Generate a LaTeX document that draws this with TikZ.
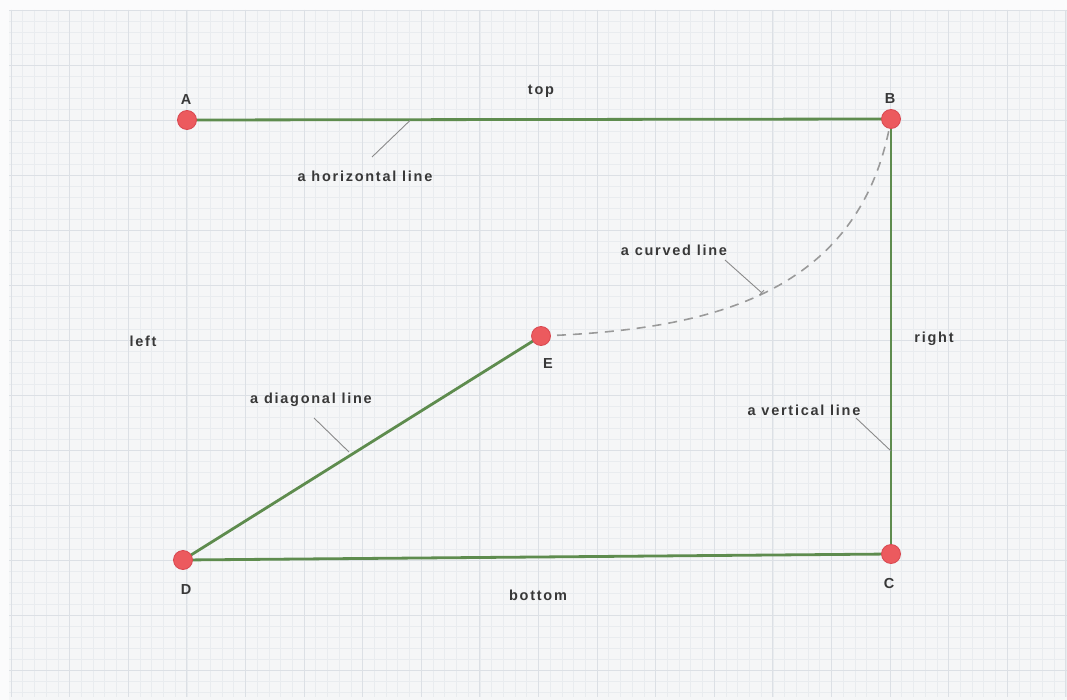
\documentclass[tikz,border=0pt]{standalone}
\usepackage{fontspec}
\setmainfont{Liberation Sans}[LetterSpace=12]
\usetikzlibrary{arrows.meta}
\definecolor{bgc}{HTML}{F5F6F7}
\definecolor{gridminor}{HTML}{E9ECEF}
\definecolor{gridmajor}{HTML}{DCE0E5}
\definecolor{linegreen}{HTML}{5E8C4E}
\definecolor{dotred}{HTML}{EC5A5E}
\definecolor{dotedge}{HTML}{D84850}
\definecolor{txt}{HTML}{383838}
\definecolor{leader}{HTML}{8A8A8A}
\definecolor{curvec}{HTML}{9A9A9A}
\tikzset{
  pt/.style={circle, fill=dotred, draw=dotedge, line width=0.8pt, minimum size=19pt, inner sep=0pt},
  lbl/.style={font=\bfseries\fontsize{14.5}{16}\selectfont, text=txt, inner sep=1pt},
  seg/.style={draw=linegreen, line width=2.8pt},
  lead/.style={draw=leader, line width=0.9pt},
  gminor/.style={draw=gridminor, line width=0.6pt},
  gmajor/.style={draw=gridmajor, line width=0.9pt},
}
\begin{document}
\begin{tikzpicture}[x=1pt,y=-1pt]
\useasboundingbox (0,0) rectangle (1067,700);
\fill[bgc] (0,0) rectangle (1067,700);
\fill[white!60!bgc] (0,0) rectangle (1067,10);
\fill[white!60!bgc] (0,0) rectangle (9,700);
% grid
\foreach \i in {0,...,90} {\draw[gminor] ({11+\i*11.72},10) -- ({11+\i*11.72},697);}
\foreach \j in {0,...,62} {\draw[gminor] (9,{10+\j*11}) -- (1067,{10+\j*11});}
\foreach \i in {0,...,18} {\draw[gmajor] ({11+\i*58.6},10) -- ({11+\i*58.6},697);}
\foreach \j in {0,...,12} {\draw[gmajor] (9,{10+\j*55}) -- (1067,{10+\j*55});}
% points
\coordinate (pA) at (187,120);
\coordinate (pB) at (891,119);
\coordinate (pC) at (891,554);
\coordinate (pD) at (183,560);
\coordinate (pE) at (541,336);
% curve
\draw[curvec, line width=1.6pt, dash pattern=on 9pt off 7pt] (pE) .. controls (700,330) and (860,300) .. (pB);
% segments
\draw[seg] (pA) -- (pB);
\draw[seg] (pB) -- (pC);
\draw[seg] (pC) -- (pD);
\draw[seg] (pD) -- (pE);
% dots
\node[pt] (A) at (pA) {};
\node[pt] (B) at (pB) {};
\node[pt] (C) at (pC) {};
\node[pt] (D) at (pD) {};
\node[pt] (E) at (pE) {};
% point labels
\node[lbl] (lA) at (186,100) {A};
\node[lbl] (lB) at (890,99) {B};
\node[lbl] (lC) at (889,584) {C};
\node[lbl] (lD) at (186,590) {D};
\node[lbl] (lE) at (548,364) {E};
% side labels
\node[lbl] (ltop) at (541,91) {top};
\node[lbl] (lbottom) at (538,595) {bottom};
\node[lbl] (lleft) at (143,341) {left};
\node[lbl] (lright) at (934,339) {right};
% line labels
\node[lbl] (lh) at (365,176) {a horizontal line};
\node[lbl] (lc) at (674,250) {a curved line};
\node[lbl] (ld) at (311,400) {a diagonal line};
\node[lbl] (lv) at (804,410) {a vertical line};
% leader ends
\coordinate (eh) at (410,120.5);
\coordinate (ec) at (762,293);
\coordinate (ed) at (349,452);
\coordinate (ev) at (891,451);
\coordinate (sh) at (372,157);
\coordinate (sc) at (725,260);
\coordinate (sd) at (314,418);
\coordinate (sv) at (856,418);
\draw[lead] (sh) -- (eh);
\draw[lead, -{Bar[width=7pt,line width=0.9pt]}] (sc) -- (ec);
\draw[lead] (sd) -- (ed);
\draw[lead] (sv) -- (ev);
\end{tikzpicture}
\end{document}
